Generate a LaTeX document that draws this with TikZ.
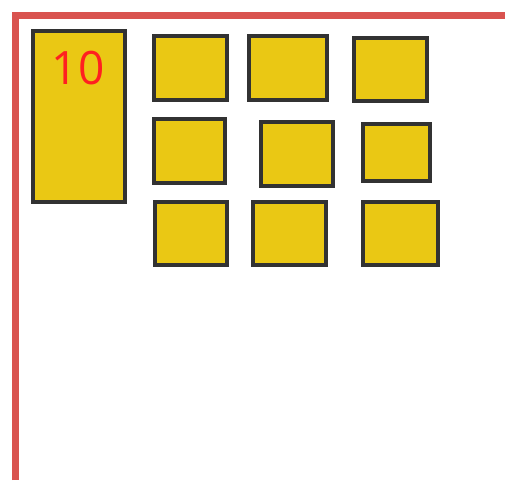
\documentclass[tikz,border=0pt]{standalone}
\usepackage{fontspec}
\setmainfont{Open Sans}
\definecolor{boxyellow}{RGB}{234,200,20}
\definecolor{boxborder}{RGB}{50,50,50}
\definecolor{frame}{RGB}{217,83,79}
\definecolor{numred}{RGB}{255,32,32}
\begin{document}
\begin{tikzpicture}[x=1pt,y=-1pt,
  tile/.style={draw=boxborder,fill=boxyellow,line width=4pt,rectangle,inner sep=0pt,outer sep=0pt},
  num/.style={text=numred,font=\fontsize{46}{46}\selectfont,inner sep=0pt}]
\useasboundingbox (0,0) rectangle (505,480);
\coordinate (fb) at (15.5,480);
\coordinate (fc) at (15.5,15.5);
\coordinate (fr) at (505,15.5);
\draw[frame,line width=7pt,line join=miter] (fb) -- (fc) -- (fr);
\node[tile,minimum width=92pt,minimum height=171pt] (tall) at (79,116.5) {};
\node[num] (ten) at (78,68) {10};
\node[tile,minimum width=73pt,minimum height=64pt] (a) at (190.5,68) {};
\node[tile,minimum width=78pt,minimum height=64pt] (b) at (288,68) {};
\node[tile,minimum width=73pt,minimum height=63pt] (c) at (390.5,69.5) {};
\node[tile,minimum width=71pt,minimum height=64pt] (d) at (189.5,151) {};
\node[tile,minimum width=72pt,minimum height=64pt] (e) at (297,154) {};
\node[tile,minimum width=67pt,minimum height=57pt] (f) at (396.5,152.5) {};
\node[tile,minimum width=72pt,minimum height=63pt] (g) at (191,233.5) {};
\node[tile,minimum width=73pt,minimum height=63pt] (h) at (289.5,233.5) {};
\node[tile,minimum width=75pt,minimum height=63pt] (i) at (400,233.5) {};
\end{tikzpicture}
\end{document}
